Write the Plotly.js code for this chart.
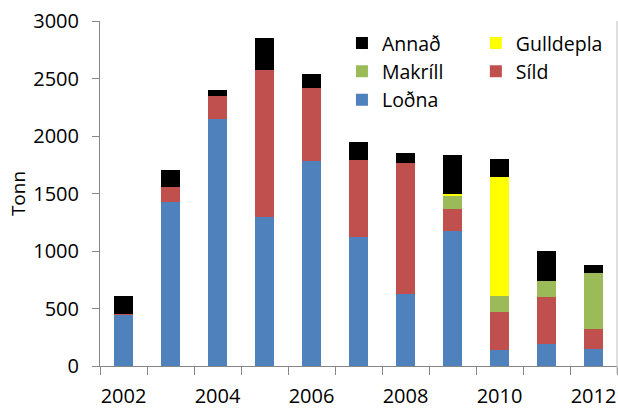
<!DOCTYPE html>
<html>
<head>
<meta charset="utf-8">
<script src="https://cdn.plot.ly/plotly-3.0.1.min.js"></script>
<style>html,body{margin:0;padding:0;background:#fff;}#chart{width:618px;height:408px;}</style>
</head>
<body>
<div id="chart"></div>
<script>
const years = [2002, 2003, 2004, 2005, 2006, 2007, 2008, 2009, 2010, 2011, 2012];
const lodna = [443, 1426, 2148, 1296, 1783, 1122, 629, 1174, 139, 194, 148];
const sild = [12, 131, 200, 1278, 634, 669, 1136, 191, 331, 406, 174];
const makrill = [0, 0, 0, 0, 0, 0, 0, 116, 139, 139, 487];
const gulldepla = [0, 0, 0, 0, 0, 0, 0, 15, 1035, 0, 0];
const annad = [154, 147, 52, 278, 122, 157, 87, 339, 156, 261, 69];
const xTickLabels = [2002, 2004, 2006, 2008, 2010, 2012];

const FONT = 'Open Sans, sans-serif';
const AX = '#868686';

function bar(name, y, color, legend) {
  return {type: 'bar', name: name, x: years, y: y, width: 0.4,
    marker: {color: color, line: {width: 0}}, legend: legend, hoverinfo: 'none'};
}

const data = [
  bar('Loðna', lodna, '#4F81BD', 'legend'),
  bar('Síld', sild, '#C0504D', 'legend2'),
  bar('Makríll', makrill, '#9BBB59', 'legend'),
  bar('Gulldepla', gulldepla, '#FFFF00', 'legend2'),
  bar('Annað', annad, '#000000', 'legend')
];

const layout = {
  width: 618, height: 408,
  margin: {l: 100, r: 1, t: 21, b: 42},
  paper_bgcolor: '#ffffff', plot_bgcolor: '#ffffff',
  barmode: 'stack',
  font: {family: FONT, size: 20, color: '#000'},
  showlegend: true,
  xaxis: {
    range: [2001.5, 2012.5],
    tickmode: 'array', tickvals: xTickLabels, ticktext: xTickLabels.map(String),
    ticks: '', showline: true, linecolor: AX, linewidth: 1,
    showgrid: false, zeroline: false,
    tickfont: {family: FONT, size: 20, color: '#000'},
    ticklabelstandoff: 12,
    minor: {tick0: 2001.5, dtick: 1, ticks: 'outside', ticklen: 8, tickcolor: AX, tickwidth: 1, showgrid: false}
  },
  yaxis: {
    range: [0, 3000], dtick: 500, tick0: 0,
    ticks: 'outside', ticklen: 7, tickcolor: AX, tickwidth: 1,
    showline: true, linecolor: AX, linewidth: 1,
    showgrid: false, zeroline: false,
    tickfont: {family: FONT, size: 20, color: '#000'},
    ticklabelstandoff: 9,
    title: {text: 'Tonn', font: {family: FONT, size: 19, color: '#000'}, standoff: 2}
  },
  legend: {
    x: 0.468, y: 0.992, xanchor: 'left', yanchor: 'top',
    orientation: 'v', traceorder: 'reversed',
    bgcolor: 'rgba(0,0,0,0)', font: {family: FONT, size: 19.5, color: '#000'}
  },
  legend2: {
    x: 0.727, y: 0.992, xanchor: 'left', yanchor: 'top',
    orientation: 'v', traceorder: 'reversed',
    bgcolor: 'rgba(0,0,0,0)', font: {family: FONT, size: 19.5, color: '#000'}
  },
  shapes: [{type: 'line', xref: 'paper', yref: 'paper', x0: 1, x1: 1, y0: -0.023, y1: 1,
    line: {color: '#BFBFBF', width: 1}}]
};

Plotly.newPlot('chart', data, layout, {displayModeBar: false, staticPlot: true});
</script>
</body>
</html>
